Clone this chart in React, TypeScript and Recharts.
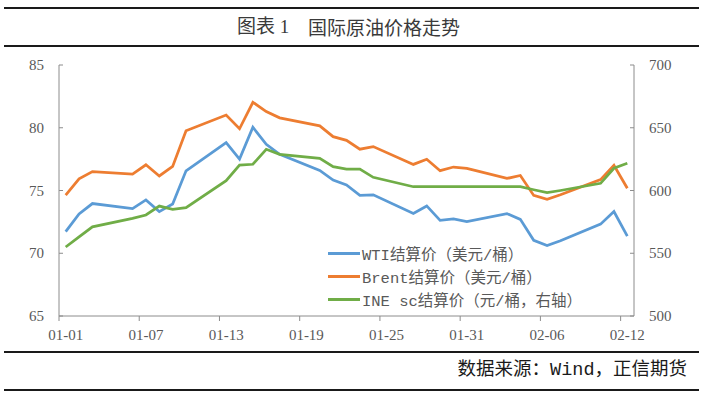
import { LineChart, Line, XAxis, YAxis } from "recharts";

// trading dates (2025), MM-DD
const DATES = [
  "01-01", "01-02", "01-03", "01-06", "01-07", "01-08", "01-09", "01-10",
  "01-13", "01-14", "01-15", "01-16", "01-17", "01-20", "01-21", "01-22",
  "01-23", "01-24", "01-27", "01-28", "01-29", "01-30", "01-31", "02-03",
  "02-04", "02-05", "02-06", "02-07", "02-10", "02-11", "02-12",
];

const WTI = [
  71.72, 73.13, 73.96, 73.56, 74.25, 73.32, 73.92, 76.57,
  78.82, 77.5, 80.04, 78.68, 77.88, 76.6, 75.83, 75.44,
  74.62, 74.66, 73.17, 73.77, 72.62, 72.73, 72.53, 73.16,
  72.7, 71.03, 70.61, 71.0, 72.32, 73.32, 71.37,
];

const BRENT = [
  74.64, 75.93, 76.51, 76.3, 77.05, 76.16, 76.92, 79.76,
  81.01, 79.92, 82.03, 81.29, 80.79, 80.15, 79.29, 79.0,
  78.29, 78.5, 77.08, 77.49, 76.58, 76.87, 76.76, 75.96,
  76.2, 74.61, 74.29, 74.66, 75.87, 77.0, 75.18,
];

const INE_SC = [
  555, 563, 571, 577.8, 580.5, 587.6, 585, 586.3,
  607.8, 620.3, 620.9, 632.8, 628.8, 625.6, 619, 617.1,
  617.1, 610.5, 603, 603, 603, 603, 603, 603,
  603, 600.6, 598.3, 600, 605.7, 617.7, 621.7,
];

const X_TICK_LABELS = ["01-01", "01-07", "01-13", "01-19", "01-25", "01-31", "02-06", "02-12"];
const LEFT_TICKS = [65, 70, 75, 80, 85];
const RIGHT_TICKS = [500, 550, 600, 650, 700];

const SERIES_NAMES = ["WTI结算价（美元/桶）", "Brent结算价（美元/桶）", "INE sc结算价（元/桶，右轴）"];
const COLORS = ["#5b9bd5", "#ed7d31", "#70ad47"];

const W = 704;
const H = 396;
const LEFT_W = 59;
const RIGHT_W = 70;
const DAYS = 43;
const DAY_PX = (W - LEFT_W - RIGHT_W) / DAYS;

const AXIS = "#8c8c8c";
const LABEL = "#595959";
const TICK_FONT = "'Liberation Serif', 'Times New Roman', serif";

function dayOf(md: string) {
  const [m, d] = md.split("-").map(Number);
  return (Date.UTC(2025, m - 1, d) - Date.UTC(2025, 0, 1)) / 86400000;
}

const data = DATES.map((d, i) => ({
  day: dayOf(d),
  wti: WTI[i],
  brent: BRENT[i],
  sc: INE_SC[i],
}));

const pad = (n: number) => String(n).padStart(2, "0");
function labelOf(day: number) {
  const dt = new Date(Date.UTC(2025, 0, 1) + day * 86400000);
  return `${pad(dt.getUTCMonth() + 1)}-${pad(dt.getUTCDate())}`;
}

function XTick({ x, y, payload }: any) {
  const tx = x - DAY_PX / 2;
  return (
    <g>
      <line x1={tx} x2={tx} y1={y} y2={y + 5} stroke={AXIS} />
      <text x={x} y={y + 19} textAnchor="middle" dominantBaseline="central"
        fontSize={15} fontFamily={TICK_FONT} fill={LABEL}>
        {labelOf(payload.value)}
      </text>
    </g>
  );
}

function LeftTick({ x, y, payload }: any) {
  return (
    <g>
      <line x1={x} x2={x + 4} y1={y} y2={y} stroke={AXIS} />
      <text x={x - 15} y={y} textAnchor="end" dominantBaseline="central"
        fontSize={15} fontFamily={TICK_FONT} fill={LABEL}>
        {payload.value}
      </text>
    </g>
  );
}

function RightTick({ x, y, payload }: any) {
  return (
    <g>
      <line x1={x - 4} x2={x} y1={y} y2={y} stroke={AXIS} />
      <text x={x + 15} y={y} textAnchor="start" dominantBaseline="central"
        fontSize={15} fontFamily={TICK_FONT} fill={LABEL}>
        {payload.value}
      </text>
    </g>
  );
}

function LegendBox() {
  return (
    <div style={{ position: "absolute", left: 328, top: 241.7 }}>
      {SERIES_NAMES.map((name, i) => (
        <div key={name} style={{ display: "flex", alignItems: "center", height: 23.3 }}>
          <span style={{ display: "inline-block", width: 32, height: 3, background: COLORS[i] }} />
          <span style={{
            marginLeft: 2, fontSize: 15.5, color: LABEL, whiteSpace: "nowrap",
            fontFamily: "'Liberation Mono', 'Noto Sans CJK SC', monospace",
          }}>
            {name}
          </span>
        </div>
      ))}
    </div>
  );
}

const rule = (top: number) => ({
  position: "absolute" as const, left: 4, width: 695, top, height: 2, background: "#1a1a1a",
});

export default function App() {
  const xTicks = X_TICK_LABELS.map(dayOf);
  return (
    <div style={{ position: "absolute", left: 0, top: 0, width: W, height: H, background: "#fff", overflow: "hidden" }}>
      <div style={rule(6.5)} />
      <div style={rule(45)} />
      <div style={{
        position: "absolute", left: 237, top: 15, lineHeight: "24px", fontSize: 19, color: "#3a3a3a",
        fontFamily: "'Liberation Serif', 'Noto Sans CJK SC', serif", whiteSpace: "nowrap",
      }}>
        图表 1
      </div>
      <div style={{
        position: "absolute", left: 308, top: 15, lineHeight: "24px", fontSize: 19, color: "#3a3a3a",
        fontFamily: "'Noto Sans CJK SC', sans-serif", whiteSpace: "nowrap",
      }}>
        国际原油价格走势
      </div>

      <div style={{ position: "absolute", left: 0, top: 0 }}>
        <LineChart width={W} height={H} data={data} margin={{ top: 65, right: 0, bottom: 50, left: 0 }}>
          <XAxis
            dataKey="day"
            type="number"
            domain={[-0.5, DAYS - 0.5]}
            ticks={xTicks}
            interval={0}
            height={30}
            stroke={AXIS}
            tickSize={0}
            tickMargin={0}
            tickLine={false}
            tick={<XTick />}
            allowDataOverflow
          />
          <YAxis
            yAxisId="left"
            domain={[65, 85]}
            ticks={LEFT_TICKS}
            width={LEFT_W}
            stroke={AXIS}
            tickSize={0}
            tickMargin={0}
            tickLine={false}
            tick={<LeftTick />}
            allowDataOverflow
          />
          <YAxis
            yAxisId="right"
            orientation="right"
            domain={[500, 700]}
            ticks={RIGHT_TICKS}
            width={RIGHT_W}
            stroke={AXIS}
            tickSize={0}
            tickMargin={0}
            tickLine={false}
            tick={<RightTick />}
            allowDataOverflow
          />
          <Line yAxisId="left" type="linear" dataKey="wti" name={SERIES_NAMES[0]} stroke={COLORS[0]}
            strokeWidth={2.75} dot={false} isAnimationActive={false} />
          <Line yAxisId="left" type="linear" dataKey="brent" name={SERIES_NAMES[1]} stroke={COLORS[1]}
            strokeWidth={2.75} dot={false} isAnimationActive={false} />
          <Line yAxisId="right" type="linear" dataKey="sc" name={SERIES_NAMES[2]} stroke={COLORS[2]}
            strokeWidth={2.75} dot={false} isAnimationActive={false} />
        </LineChart>
      </div>

      <LegendBox />

      <div style={rule(351)} />
      <div style={{
        position: "absolute", right: 17, top: 358, lineHeight: "26px", fontSize: 18.5, color: "#1a1a1a",
        fontFamily: "'Liberation Mono', 'Noto Sans CJK SC', monospace", whiteSpace: "nowrap",
      }}>
        数据来源：Wind，正信期货
      </div>
      <div style={rule(389)} />
    </div>
  );
}
